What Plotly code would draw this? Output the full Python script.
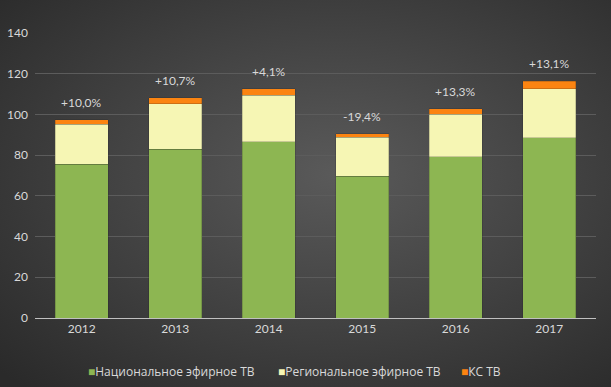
import plotly.graph_objects as go
import base64

years = ["2012", "2013", "2014", "2015", "2016", "2017"]
national = [75.5, 82.9, 86.6, 69.7, 79.2, 88.6]
regional = [19.7, 22.3, 22.9, 19.2, 20.9, 24.0]
ks = [2.1, 2.9, 3.1, 1.6, 2.6, 3.6]
growth = ["+10,0%", "+10,7%", "+4,1%", "-19,4%", "+13,3%", "+13,1%"]
names = ["Национальное эфирное ТВ", "Региональное эфирное ТВ", "КС ТВ"]
colors = ["#8db652", "#f6f6b4", "#fb8411"]

font = "Lato, 'Noto Sans', sans-serif"
txt = "#d9d9d9"

svg = """<svg xmlns='http://www.w3.org/2000/svg' width='611' height='387' preserveAspectRatio='none'>
<defs><radialGradient id='g' cx='0.55' cy='0.45' r='0.75'>
<stop offset='0' stop-color='#5a5a5a'/><stop offset='1' stop-color='#2a2a2a'/></radialGradient></defs>
<rect width='611' height='387' fill='url(#g)'/></svg>"""
bg = "data:image/svg+xml;base64," + base64.b64encode(svg.encode()).decode()

fig = go.Figure()
for vals, nm, col in zip([national, regional, ks], names, colors):
    fig.add_trace(go.Bar(x=years, y=vals, name=nm, marker_color=col,
                         marker_line=dict(color="rgba(35,35,35,0.35)", width=0.6)))

totals = [a + b + c for a, b, c in zip(national, regional, ks)]
for i, (t, g) in enumerate(zip(totals, growth)):
    fig.add_annotation(x=i, y=t, text=g, showarrow=False, yanchor="bottom", yshift=8,
                       font=dict(family=font, size=12, color=txt))

# legend drawn as text entries (compact square markers as in the reference)
leg_x = [86, 276, 459]
for px, nm, col in zip(leg_x, names, colors):
    fig.add_annotation(xref="paper", yref="paper", x=(px - 35) / 561,
                       y=-(371 - 318) / 285, xanchor="left", yanchor="middle",
                       showarrow=False,
                       text=f"<span style='color:{col}'>■</span>{nm}",
                       font=dict(family="'Open Sans', sans-serif", size=12, color=txt))

fig.update_layout(
    width=611, height=387,
    barmode="stack", bargap=0.43,
    margin=dict(l=35, r=15, t=33, b=69, autoexpand=False),
    paper_bgcolor="#3a3a3a", plot_bgcolor="rgba(0,0,0,0)",
    font=dict(family=font, size=12, color=txt),
    images=[dict(source=bg, xref="paper", yref="paper", x=-35/561, y=1+33/285,
                 sizex=611/561, sizey=387/285, xanchor="left", yanchor="top",
                 sizing="stretch", layer="below")],
    xaxis=dict(type="category", range=[-0.5, 5.5], showgrid=False, showline=True,
               linecolor="#c0c0c0", linewidth=1, ticks="",
               tickfont=dict(size=12, color=txt)),
    yaxis=dict(range=[0, 140], dtick=20, showgrid=True, gridcolor="#5c5c5c",
               gridwidth=1, zeroline=False, showline=False, ticks="",
               tickfont=dict(size=12, color=txt), ticksuffix="  "),
    showlegend=False,
)

fig.write_html("out.html", config={"displayModeBar": False},
               post_script="document.body.style.margin='0';")
